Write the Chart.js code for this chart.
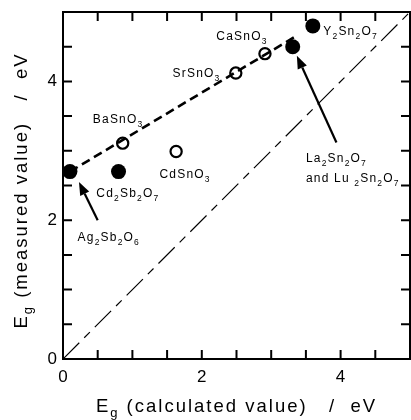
<!DOCTYPE html>
<html><head><meta charset="utf-8">
<script src="https://cdn.jsdelivr.net/npm/chart.js@4.4.0/dist/chart.umd.min.js"></script>
<style>html,body{margin:0;padding:0;background:#fff;overflow:hidden}#c{display:block}</style>
</head><body>
<canvas id="c" width="411" height="420"></canvas>
<script>
// ---- data ----
const filledNames = ['Ag_2Sb_2O_6', 'Cd_2Sb_2O_7', 'La_2Sn_2O_7', 'Y_2Sn_2O_7'];
const filledX = [0.10, 0.80, 3.31, 3.60];
const filledY = [2.70, 2.70, 4.50, 4.80];
const openNames = ['BaSnO_3', 'CdSnO_3', 'SrSnO_3', 'CaSnO_3'];
const openX = [0.86, 1.63, 2.49, 2.91];
const openY = [3.11, 2.99, 4.12, 4.40];
const fitX = [0.10, 3.37];
const fitY = [2.70, 4.66];
const diagX = [0, 5];
const diagY = [0, 5];
const xTickLabels = [0, 2, 4];
const yTickLabels = [0, 2, 4];
const xTitle = 'E_g (calculated value)   /  eV';
const yTitle = 'E_g (measured value)   /  eV';

// annotation placement (data coordinates)
const labels = [
  {text: 'BaSnO_3', x: 0.43, y: 3.46, align: 'left'},
  {text: 'Cd_2Sb_2O_7', x: 0.48, y: 2.40, align: 'left'},
  {text: 'CdSnO_3', x: 1.39, y: 2.67, align: 'left'},
  {text: 'SrSnO_3', x: 2.27, y: 4.13, align: 'right'},
  {text: 'CaSnO_3', x: 2.21, y: 4.66, align: 'left'},
  {text: 'Y_2Sn_2O_7', x: 3.75, y: 4.73, align: 'left'},
  {text: 'La_2Sn_2O_7', x: 3.50, y: 2.91, align: 'left'},
  {text: 'and Lu _2Sn_2O_7', x: 3.50, y: 2.62, align: 'left'},
  {text: 'Ag_2Sb_2O_6', x: 0.21, y: 1.76, align: 'left'}
];
const arrows = [
  {fx: 0.50, fy: 2.00, tx: 0.23, ty: 2.55},
  {fx: 3.94, fy: 3.12, tx: 3.37, ty: 4.37}
];

const FONT = '"Liberation Sans", Arial, sans-serif';
Chart.defaults.font.family = FONT;
Chart.defaults.color = '#000';

function toPts(xs, ys) { return xs.map((x, i) => ({x: x, y: ys[i]})); }

function parseRich(s) {
  const segs = []; let buf = '';
  for (let i = 0; i < s.length; i++) {
    if (s[i] === '_') { if (buf) { segs.push({t: buf, sub: false}); buf = ''; } segs.push({t: s[i + 1], sub: true}); i++; }
    else buf += s[i];
  }
  if (buf) segs.push({t: buf, sub: false});
  return segs;
}
function drawRich(ctx, s, x, y, o) {
  const segs = parseRich(s);
  ctx.letterSpacing = o.ls + 'px';
  let w = 0;
  segs.forEach(g => { ctx.font = (g.sub ? o.sub : o.size) + 'px ' + FONT; g.w = ctx.measureText(g.t).width; w += g.w; });
  let cx = o.align === 'right' ? x - w : (o.align === 'center' ? x - w / 2 : x);
  ctx.textAlign = 'left'; ctx.textBaseline = 'alphabetic'; ctx.fillStyle = '#000';
  segs.forEach(g => { ctx.font = (g.sub ? o.sub : o.size) + 'px ' + FONT; ctx.fillText(g.t, cx, y + (g.sub ? o.dy : 0)); cx += g.w; });
  ctx.letterSpacing = '0px';
}

const frame = {
  id: 'frame',
  afterDatasetsDraw(chart) {
    const ctx = chart.ctx, a = chart.chartArea, xs = chart.scales.x, ys = chart.scales.y;
    ctx.save();
    ctx.strokeStyle = '#000'; ctx.lineWidth = 2; ctx.setLineDash([]);
    ctx.strokeRect(a.left, a.top, a.right - a.left, a.bottom - a.top);
    const tl = 9;
    ctx.beginPath();
    for (let v = 0.5; v < 5; v += 0.5) {
      const px = xs.getPixelForValue(v), py = ys.getPixelForValue(v);
      ctx.moveTo(px, a.bottom); ctx.lineTo(px, a.bottom - tl);
      ctx.moveTo(px, a.top); ctx.lineTo(px, a.top + tl);
      ctx.moveTo(a.left, py); ctx.lineTo(a.left + tl, py);
      ctx.moveTo(a.right, py); ctx.lineTo(a.right - tl, py);
    }
    ctx.stroke();
    // tick labels, placed by the scales
    ctx.fillStyle = '#000'; ctx.font = '17px ' + FONT;
    ctx.textAlign = 'center'; ctx.textBaseline = 'middle';
    xTickLabels.forEach(v => ctx.fillText(String(v), xs.getPixelForValue(v), a.bottom + 18));
    ctx.textAlign = 'right';
    yTickLabels.forEach(v => ctx.fillText(String(v), a.left - 6, ys.getPixelForValue(v)));
    arrows.forEach(ar => {
      const x1 = xs.getPixelForValue(ar.fx), y1 = ys.getPixelForValue(ar.fy);
      const x2 = xs.getPixelForValue(ar.tx), y2 = ys.getPixelForValue(ar.ty);
      const ang = Math.atan2(y2 - y1, x2 - x1), L = 13, H = 5;
      const bx = x2 - L * Math.cos(ang), by = y2 - L * Math.sin(ang);
      ctx.lineWidth = 2.2;
      ctx.beginPath(); ctx.moveTo(x1, y1); ctx.lineTo(bx, by); ctx.stroke();
      ctx.beginPath(); ctx.moveTo(x2, y2);
      ctx.lineTo(bx + H * Math.sin(ang), by - H * Math.cos(ang));
      ctx.lineTo(bx - H * Math.sin(ang), by + H * Math.cos(ang));
      ctx.closePath(); ctx.fillStyle = '#000'; ctx.fill();
    });
    labels.forEach(l => {
      const px = xs.getPixelForValue(l.x), py = ys.getPixelForValue(l.y);
      drawRich(ctx, l.text, px, py + 4.5, {size: 12, sub: 8.5, dy: 4, ls: 1.2, align: l.align});
    });
    const cx = (a.left + a.right) / 2, cy = (a.top + a.bottom) / 2;
    drawRich(ctx, xTitle, cx, 412, {size: 18.5, sub: 13, dy: 5, ls: 2.0, align: 'center'});
    ctx.save(); ctx.translate(27, cy + 5); ctx.rotate(-Math.PI / 2);
    drawRich(ctx, yTitle, 0, 0, {size: 18.5, sub: 13, dy: 5, ls: 2.0, align: 'center'});
    ctx.restore();
    ctx.restore();
  }
};

new Chart(document.getElementById('c'), {
  type: 'scatter',
  data: {
    datasets: [
      {label: 'diag', data: toPts(diagX, diagY), showLine: true, borderColor: '#000', borderWidth: 1.2, borderDash: [23, 7, 8, 7], pointRadius: 0, fill: false},
      {label: 'fit', data: toPts(fitX, fitY), showLine: true, borderColor: '#000', borderWidth: 2.6, borderDash: [9, 5], pointRadius: 0, fill: false},
      {label: 'open', data: toPts(openX, openY), pointRadius: 5.6, pointBorderWidth: 2.2, pointBackgroundColor: 'rgba(0,0,0,0)', pointBorderColor: '#000', showLine: false},
      {label: 'filled', data: toPts(filledX, filledY), pointRadius: 7.5, pointBorderWidth: 0, pointBackgroundColor: '#000', pointBorderColor: '#000', showLine: false}
    ]
  },
  options: {
    responsive: false, animation: false, devicePixelRatio: 1,
    layout: {autoPadding: false, padding: {top: 12, right: 1, left: 0, bottom: 0}},
    plugins: {legend: {display: false}, tooltip: {enabled: false}},
    scales: {
      x: {type: 'linear', min: 0, max: 5,
          ticks: {display: false, stepSize: 0.5},
          grid: {display: false, drawTicks: false}, border: {display: false},
          afterFit: s => { s.height = 61; }},
      y: {type: 'linear', min: 0, max: 5,
          ticks: {display: false, stepSize: 0.5},
          grid: {display: false, drawTicks: false}, border: {display: false},
          afterFit: s => { s.width = 63; }}
    }
  },
  plugins: [frame]
});
</script>
</body></html>
